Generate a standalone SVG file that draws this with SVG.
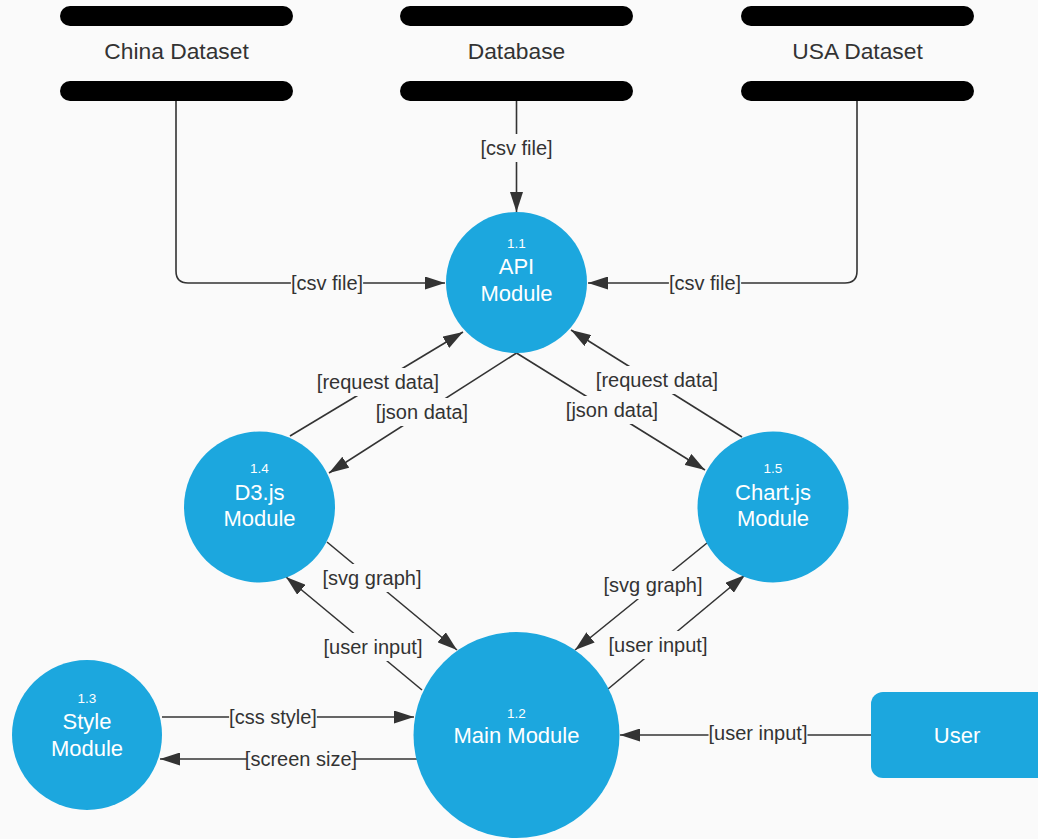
<svg xmlns="http://www.w3.org/2000/svg" width="1038" height="839" viewBox="0 0 1038 839">
<style>
.bg{fill:#fafafa}
.store{fill:#000}
.storetxt{font-family:"Liberation Sans",Arial,sans-serif;font-size:22.8px;fill:#333;text-anchor:middle}
.proc{fill:#1ca7de}
.num{font-family:"Liberation Sans",Arial,sans-serif;font-size:13.5px;fill:#fff;text-anchor:middle}
.ptxt{font-family:"Liberation Sans",Arial,sans-serif;font-size:22px;fill:#fff;text-anchor:middle}
.line{fill:none;stroke:#333;stroke-width:1.6;marker-end:url(#arr)}
.lbg{fill:#fafafa}
.lbl{font-family:"Liberation Sans",Arial,sans-serif;font-size:20px;fill:#333;text-anchor:middle}
</style>
<defs>
<marker id="arr" markerUnits="userSpaceOnUse" markerWidth="20" markerHeight="13" refX="20" refY="6.5" orient="auto">
<path d="M0,0 L20,6.5 L0,13 z" fill="#333"/>
</marker>
</defs>
<rect class="bg" x="0" y="0" width="1038" height="839"/>

<g id="connectors">
<path class="line" d="M176,101 V271 Q176,283 188,283 H445"/>
<path class="line" d="M516.5,101 V212"/>
<path class="line" d="M857,101 V271 Q857,283 845,283 H588"/>
<path class="line" d="M290,436 L463,332"/>
<path class="line" d="M516.5,353 L329,473"/>
<path class="line" d="M516.5,353 L705,470"/>
<path class="line" d="M742,437 L571,330"/>
<path class="line" d="M327,542 L457,650"/>
<path class="line" d="M422,690 L286,577"/>
<path class="line" d="M707,543 L575,650"/>
<path class="line" d="M608,689 L745,575"/>
<path class="line" d="M162,717 H414"/>
<path class="line" d="M418,759 H160"/>
<path class="line" d="M871,735 H620"/>

<rect class="lbg" x="290.9" y="269" width="72.2" height="28"/>
<text class="lbl" x="327" y="290">[csv file]</text>
<rect class="lbg" x="480.4" y="134" width="72.2" height="28"/>
<text class="lbl" x="516.5" y="155">[csv file]</text>
<rect class="lbg" x="668.9" y="269" width="72.2" height="28"/>
<text class="lbl" x="705" y="290">[csv file]</text>

<rect class="lbg" x="316" y="368" width="124" height="28"/>
<text class="lbl" x="378" y="389">[request data]</text>
<rect class="lbg" x="375" y="398" width="94" height="28"/>
<text class="lbl" x="422" y="419">[json data]</text>
<rect class="lbg" x="565" y="396" width="94" height="28"/>
<text class="lbl" x="612" y="417">[json data]</text>
<rect class="lbg" x="595" y="366" width="124" height="28"/>
<text class="lbl" x="657" y="387">[request data]</text>

<rect class="lbg" x="322" y="564" width="100" height="28"/>
<text class="lbl" x="372" y="585">[svg graph]</text>
<rect class="lbg" x="323" y="633" width="100" height="28"/>
<text class="lbl" x="373" y="654">[user input]</text>
<rect class="lbg" x="603" y="571" width="100" height="28"/>
<text class="lbl" x="653" y="592">[svg graph]</text>
<rect class="lbg" x="608" y="631" width="100" height="28"/>
<text class="lbl" x="658" y="652">[user input]</text>

<rect class="lbg" x="229.1" y="703" width="87.8" height="28"/>
<text class="lbl" x="273" y="724">[css style]</text>
<rect class="lbg" x="247" y="745" width="108" height="28"/>
<text class="lbl" x="301" y="766">[screen size]</text>
<rect class="lbg" x="708.5" y="719" width="99" height="28"/>
<text class="lbl" x="758" y="740">[user input]</text>
</g>

<g id="china-dataset">
<rect class="store" x="60" y="6" width="233" height="20" rx="10"/>
<text class="storetxt" x="176.5" y="59">China Dataset</text>
<rect class="store" x="60" y="81" width="233" height="20" rx="10"/>
</g>
<g id="database">
<rect class="store" x="400" y="6" width="233" height="20" rx="10"/>
<text class="storetxt" x="516.5" y="59">Database</text>
<rect class="store" x="400" y="81" width="233" height="20" rx="10"/>
</g>
<g id="usa-dataset">
<rect class="store" x="741" y="6" width="233" height="20" rx="10"/>
<text class="storetxt" x="857.5" y="59">USA Dataset</text>
<rect class="store" x="741" y="81" width="233" height="20" rx="10"/>
</g>

<g id="api-module">
<circle class="proc" cx="516.5" cy="282.5" r="70.5"/>
<text class="num" x="516.5" y="247.5">1.1</text>
<text class="ptxt" x="516.5" y="274">API</text>
<text class="ptxt" x="516.5" y="301">Module</text>
</g>
<g id="d3-module">
<circle class="proc" cx="259.5" cy="507" r="75.5"/>
<text class="num" x="259.5" y="472.5">1.4</text>
<text class="ptxt" x="259.5" y="500">D3.js</text>
<text class="ptxt" x="259.5" y="526">Module</text>
</g>
<g id="chart-module">
<circle class="proc" cx="773" cy="507" r="75.5"/>
<text class="num" x="773" y="472.5">1.5</text>
<text class="ptxt" x="773" y="500">Chart.js</text>
<text class="ptxt" x="773" y="526">Module</text>
</g>
<g id="style-module">
<circle class="proc" cx="87" cy="735" r="75"/>
<text class="num" x="87" y="702.5">1.3</text>
<text class="ptxt" x="87" y="729">Style</text>
<text class="ptxt" x="87" y="756">Module</text>
</g>
<g id="main-module">
<circle class="proc" cx="516.5" cy="735" r="103"/>
<text class="num" x="516.5" y="717.5">1.2</text>
<text class="ptxt" x="516.5" y="743">Main Module</text>
</g>
<g id="user">
<rect class="proc" x="871" y="692" width="180" height="86" rx="12"/>
<text class="ptxt" x="957" y="743">User</text>
</g>
</svg>
